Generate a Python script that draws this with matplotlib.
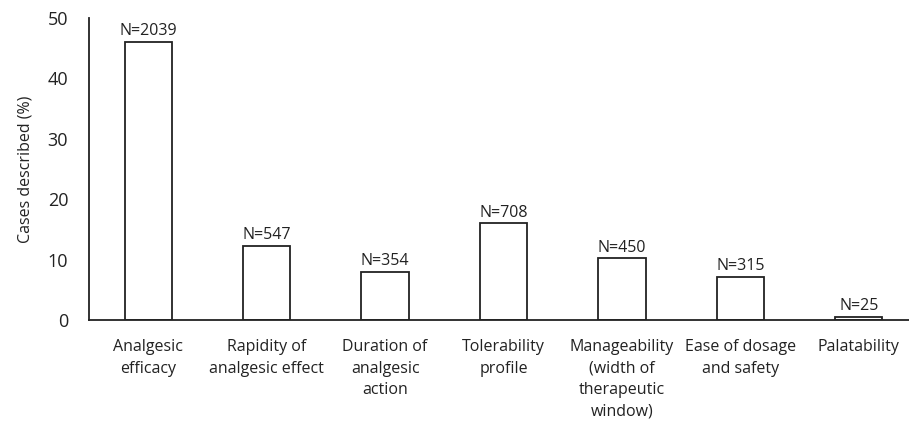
import matplotlib
matplotlib.use('Agg')
import matplotlib.pyplot as plt
import numpy as np

# categories and values
categories = ['Analgesic\nefficacy', 'Rapidity of\nanalgesic effect', 'Duration of\nanalgesic\naction',
              'Tolerability\nprofile', 'Manageability\n(width of\ntherapeutic\nwindow)',
              'Ease of dosage\nand safety', 'Palatability']
percent = [46.0, 12.3, 8.0, 16.0, 10.2, 7.1, 0.55]
counts = [2039, 547, 354, 708, 450, 315, 25]

plt.rcParams['font.family'] = ['Open Sans', 'DejaVu Sans']

fig = plt.figure(figsize=(9.09, 4.22), dpi=100)
ax = fig.add_axes([89 / 909, 102 / 422, 829 / 909, 302 / 422])

x = np.arange(len(categories))
bars = ax.bar(x, percent, width=0.4, facecolor='white', edgecolor='#222222', linewidth=1.3)

for xi, p, n in zip(x, percent, counts):
    ax.annotate(f'N={n}', (xi, p), xytext=(0, 2), textcoords='offset points',
                ha='center', va='bottom', fontsize=11.5, color='#222222')

ax.set_xlim(-0.5, len(categories) - 0.5)
ax.set_ylim(0, 50)
ax.set_yticks([0, 10, 20, 30, 40, 50])
ax.set_xticks(x)
ax.set_xticklabels(categories, fontsize=11.5, color='#222222', linespacing=1.45)
ax.tick_params(axis='y', length=0, pad=15, labelsize=13, labelcolor='#222222')
ax.tick_params(axis='x', length=0, pad=14)
ax.set_ylabel('Cases described (%)', fontsize=11.5, color='#222222', labelpad=10)

for s in ['top', 'right']:
    ax.spines[s].set_visible(False)
for s in ['left', 'bottom']:
    ax.spines[s].set_color('#222222')
    ax.spines[s].set_linewidth(1.3)

fig.savefig('out.png', dpi=100)
